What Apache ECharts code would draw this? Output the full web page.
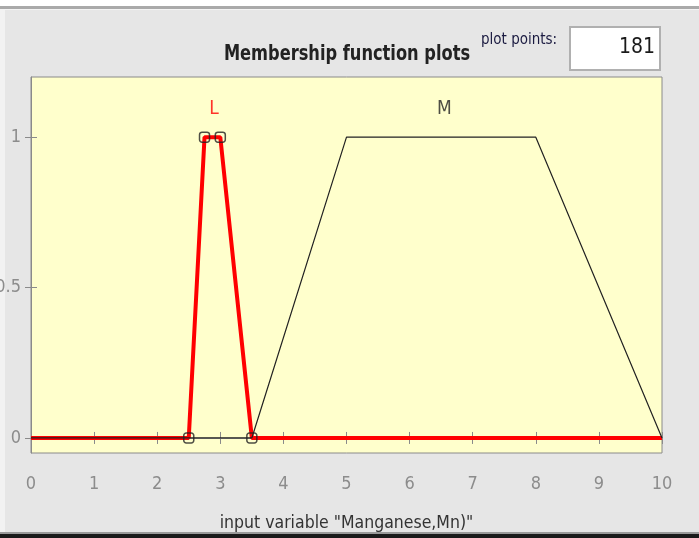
<!DOCTYPE html>
<html>
<head>
<meta charset="utf-8">
<script src="https://cdn.jsdelivr.net/npm/echarts@6/dist/echarts.min.js"></script>
<style>
html,body{margin:0;padding:0;background:#e6e6e6;}
#chart{width:699px;height:538px;}
</style>
</head>
<body>
<div id="chart"></div>
<script>
// ---- data ----
const xTicks = [0,1,2,3,4,5,6,7,8,9,10];
const yTicks = [0,0.5,1];
const lX = [0, 2.5, 2.75, 3, 3.5, 10];
const lY = [0, 0, 1, 1, 0, 0];
const mX = [0, 3.5, 5, 8, 10];
const mY = [0, 0, 1, 1, 0];
const lParamsX = [2.5, 2.75, 3, 3.5];
const lParamsY = [0, 1, 1, 0];
const mfNames = ['L', 'M'];
const mfLabelX = [2.9, 6.55];
const mfLabelY = [1.095, 1.095];
const plotPoints = '181';

const FONT = '"DejaVu Sans Condensed", "Liberation Sans Narrow", "Liberation Sans", Arial, sans-serif';
const zip = (a, b) => a.map((v, i) => [v, b[i]]);

const chart = echarts.init(document.getElementById('chart'), null, {renderer: 'canvas'});
chart.setOption({
  backgroundColor: '#e6e6e6',
  animation: false,
  grid: {
    left: 31, right: 37, top: 77, bottom: 85,
    containLabel: false, outerBoundsMode: 'none',
    show: true, backgroundColor: '#ffffcc', borderColor: '#8a8a8a', borderWidth: 1
  },
  xAxis: [{
    type: 'value', min: 0, max: 10, interval: 1,
    axisLine: {show: true, lineStyle: {color: '#8a8a8a'}},
    axisTick: {show: true, inside: true, length: 6, lineStyle: {color: '#8a8a8a'}},
    axisLabel: {fontFamily: FONT, fontSize: 18, color: '#8c8c8c', margin: 22},
    splitLine: {show: false},
    name: 'input variable "Manganese,Mn)"',
    nameLocation: 'middle', nameGap: 61,
    nameTextStyle: {fontFamily: FONT, fontSize: 17.5, color: '#333'}
  }, {
    type: 'value', min: 0, max: 10, interval: 1, position: 'top',
    axisLine: {show: false},
    axisTick: {show: true, inside: true, length: 6, lineStyle: {color: '#8a8a8a'}},
    axisLabel: {show: false}, splitLine: {show: false}
  }],
  yAxis: [{
    type: 'value', min: -0.05, max: 1.2,
    axisLine: {show: true, lineStyle: {color: '#8a8a8a'}},
    axisTick: {show: true, inside: true, length: 6, customValues: yTicks, lineStyle: {color: '#8a8a8a'}},
    axisLabel: {fontFamily: FONT, fontSize: 18, color: '#8c8c8c', margin: 10, customValues: yTicks,
      formatter: v => String(v)},
    splitLine: {show: false}
  }, {
    type: 'value', min: -0.05, max: 1.2, position: 'right',
    axisLine: {show: false},
    axisTick: {show: true, inside: true, length: 6, customValues: yTicks, lineStyle: {color: '#8a8a8a'}},
    axisLabel: {show: false}, splitLine: {show: false}
  }],
  series: [{
    name: 'L', type: 'line', data: zip(lX, lY), showSymbol: false, symbol: 'none',
    lineStyle: {color: '#ff0000', width: 4}, z: 2
  }, {
    name: 'M', type: 'line', data: zip(mX, mY), showSymbol: false, symbol: 'none',
    lineStyle: {color: '#222', width: 1.2}, z: 3
  }, {
    name: 'L params', type: 'scatter', data: zip(lParamsX, lParamsY), symbol: 'roundRect', symbolSize: 10,
    itemStyle: {color: 'rgba(0,0,0,0)', borderColor: '#222', borderWidth: 1.5}, z: 4
  }, {
    name: 'labels', type: 'scatter', symbolSize: 0,
    data: mfNames.map((n, i) => ({value: [mfLabelX[i], mfLabelY[i]], name: n,
      label: {color: i === 0 ? '#ff0000' : '#222'}})),
    label: {show: true, position: 'inside', formatter: p => p.name, fontFamily: FONT, fontSize: 19},
    z: 5
  }],
  graphic: [
    {type: 'rect', shape: {x: 0, y: 0, width: 699, height: 6}, style: {fill: '#ffffff'}},
    {type: 'rect', shape: {x: 0, y: 6, width: 699, height: 3}, style: {fill: '#aaaaaa'}},
    {type: 'rect', shape: {x: 0, y: 9, width: 699, height: 1}, style: {fill: '#f4f4f4'}},
    {type: 'rect', shape: {x: 0, y: 10, width: 5, height: 525}, style: {fill: '#f2f2f2'}},
    {type: 'rect', shape: {x: 0, y: 532, width: 699, height: 2}, style: {fill: '#9a9a9a'}},
    {type: 'rect', shape: {x: 0, y: 534, width: 699, height: 4}, style: {fill: '#1a1a1a'}},
    {type: 'text', x: 347, y: 55, scaleX: 0.86,
      style: {text: 'Membership function plots', font: 'bold 21px ' + FONT, fill: '#222',
        align: 'center', verticalAlign: 'middle'}},
    {type: 'text', left: 481, top: 33, style: {text: 'plot points:', font: '15px ' + FONT, fill: '#1a1a40'}},
    {type: 'rect', shape: {x: 570, y: 27, width: 90, height: 43},
      style: {fill: '#ffffff', stroke: '#b0b0b0', lineWidth: 2}},
    {type: 'text', x: 655, y: 48,
      style: {text: plotPoints, font: '21px ' + FONT, fill: '#1a1a1a', align: 'right', verticalAlign: 'middle'}}
  ]
});
</script>
</body>
</html>
